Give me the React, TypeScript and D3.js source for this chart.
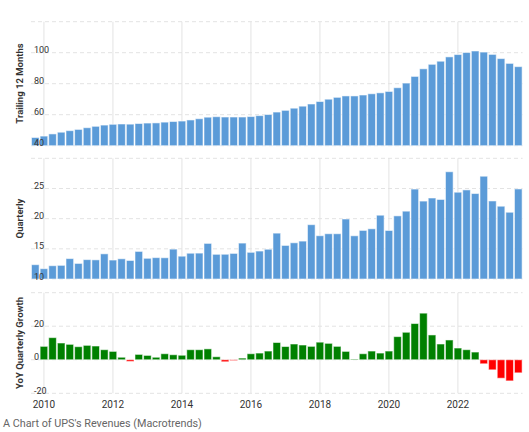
import React from "react";
import * as d3 from "d3";

// Quarters from 2009 Q4 to 2023 Q4
const quarters: string[] = [];
quarters.push("2009Q4");
for (let y = 2010; y <= 2023; y++) for (let q = 1; q <= 4; q++) quarters.push(`${y}Q${q}`);

// Trailing 12 months revenue (billions USD)
const ttm = [
  45.3,
  46.2, 47.6, 48.7, 49.7,
  50.5, 51.6, 52.5, 53.3,
  53.8, 54.0, 53.9, 54.3,
  54.6, 54.7, 55.2, 55.6,
  55.9, 56.6, 57.4, 58.4,
  58.7, 58.5, 58.5, 58.5,
  58.8, 59.4, 60.1, 61.7,
  62.8, 64.2, 65.5, 66.9,
  68.5, 70.0, 71.2, 72.1,
  72.1, 72.7, 73.5, 74.1,
  75.0, 77.4, 80.4, 84.7,
  89.6, 92.5, 94.5, 97.3,
  98.8, 100.1, 101.1, 100.4,
  98.9, 96.2, 93.1, 91.0,
];

// Quarterly revenue (billions USD)
const quarterly = [
  12.37,
  11.71, 12.2, 12.26, 13.38,
  12.58, 13.21, 13.17, 14.17,
  13.14, 13.35, 13.07, 14.57,
  13.43, 13.54, 13.52, 14.95,
  13.78, 14.27, 14.29, 15.9,
  14.09, 14.1, 14.24, 15.95,
  14.42, 14.63, 14.93, 17.6,
  15.56, 16.0, 16.28, 19.0,
  17.17, 17.5, 17.5, 19.94,
  17.16, 18.05, 18.32, 20.57,
  18.04, 20.46, 21.24, 24.9,
  22.91, 23.42, 23.18, 27.77,
  24.38, 24.76, 24.16, 27.03,
  22.93, 22.06, 21.06, 24.92,
];

// YoY quarterly growth (%) from 2010 Q1 to 2023 Q4
const yoy = [
  8.0, 13.2, 10.0, 9.2,
  7.8, 8.6, 8.2, 6.0,
  5.0, 1.5, -1.0, 3.2,
  2.6, 1.5, 3.6, 3.0,
  2.7, 6.0, 6.0, 6.5,
  1.8, -1.2, -0.5, 1.0,
  3.6, 4.0, 5.2, 10.3,
  7.9, 9.4, 8.8, 8.0,
  10.5, 9.8, 8.0, 5.0,
  0.4, 3.6, 5.2, 4.0,
  5.2, 13.8, 16.4, 21.6,
  27.8, 14.8, 9.4, 11.8,
  7.0, 6.0, 4.6, -2.4,
  -6.0, -11.0, -12.6, -7.8,
];
const yoyQuarters = quarters.slice(1);

const yearTicks = [2010, 2012, 2014, 2016, 2018, 2020, 2022];
const ttmTicks = [40, 60, 80, 100, 120];
const qTicks = [10, 15, 20, 25, 30];
const yoyTicks = [-20, 0, 20, 40];

const W = 529;
const H = 432;
const LEFT = 31;
const RIGHT = 522.6;
const BLUE = "#5b9bd8";
const GREEN = "#008000";
const RED = "#ff0000";
const GRID = "#e3e3e3";
const FONT = "Roboto, 'Noto Sans', sans-serif";

const x = d3.scaleBand<string>().domain(quarters).range([LEFT, RIGHT]).padding(0);
const bw = x.bandwidth();

type PanelProps = {
  title: string;
  titleY: number;
  cats: string[];
  values: number[];
  domain: [number, number];
  range: [number, number];
  ticks: number[];
  labelTicks: number[];
  colorFn: (v: number) => string;
  baseline: number;
};

function Panel({ title, titleY, cats, values, domain, range, ticks, labelTicks, colorFn, baseline }: PanelProps) {
  const y = d3.scaleLinear().domain(domain).range(range);
  return (
    <g>
      {ticks.map((t) => (
        <line key={"h" + t} x1={LEFT} x2={RIGHT} y1={y(t)} y2={y(t)} stroke={GRID} strokeDasharray="4,3" strokeWidth={1} />
      ))}
      {yearTicks.map((yr) => {
        const xx = (x(`${yr}Q1`) as number) + bw / 2;
        return <line key={"v" + yr} x1={xx} x2={xx} y1={range[1]} y2={range[0]} stroke={GRID} strokeWidth={1} />;
      })}
      {values.map((v, i) => {
        const x0 = x(cats[i]) as number;
        const y0 = y(Math.max(v, baseline));
        const y1 = y(Math.min(v, baseline));
        return (
          <rect
            key={i}
            x={x0 + 0.5}
            y={y0}
            width={bw - 1}
            height={Math.max(0.5, y1 - y0)}
            fill={colorFn(v)}
            stroke="rgba(255,255,255,0.55)"
            strokeWidth={1}
          />
        );
      })}
      {labelTicks.map((t) => (
        <text key={"l" + t} x={34} y={y(t) + 0.5} fontSize={9} fill="#333" fontFamily={FONT}>
          {t}
        </text>
      ))}
      <text
        transform={`translate(23,${titleY}) rotate(-90)`}
        textAnchor="middle"
        fontSize={9.5}
        fontWeight="bold"
        fill="#333"
        fontFamily={FONT}
      >
        {title}
      </text>
    </g>
  );
}

export default function App() {
  return (
    <svg width={W} height={H} style={{ position: "absolute", left: 0, top: 0, background: "#fff" }}>
      <Panel
        title="Trailing 12 Months"
        titleY={83.5}
        cats={quarters}
        values={ttm}
        domain={[40, 120]}
        range={[145.7, 21.7]}
        ticks={ttmTicks}
        labelTicks={[40, 60, 80, 100]}
        colorFn={() => BLUE}
        baseline={40}
      />
      <Panel
        title="Quarterly"
        titleY={218.5}
        cats={quarters}
        values={quarterly}
        domain={[10, 30]}
        range={[279, 158.3]}
        ticks={qTicks}
        labelTicks={[10, 15, 20, 25]}
        colorFn={() => BLUE}
        baseline={10}
      />
      <Panel
        title="YoY Quarterly Growth"
        titleY={343}
        cats={yoyQuarters}
        values={yoy}
        domain={[-20, 40]}
        range={[393.3, 292.7]}
        ticks={yoyTicks}
        labelTicks={[-20, 0, 20]}
        colorFn={(v) => (v >= 0 ? GREEN : RED)}
        baseline={0}
      />
      {yearTicks.map((yr) => (
        <text
          key={"x" + yr}
          x={(x(`${yr}Q1`) as number) + bw / 2}
          y={408.3}
          textAnchor="middle"
          fontSize={10}
          fill="#333"
          fontFamily={FONT}
        >
          {yr}
        </text>
      ))}
      <text x={3} y={426.7} fontSize={10.8} fill="#666" fontFamily={FONT}>
        A Chart of UPS's Revenues (Macrotrends)
      </text>
    </svg>
  );
}
